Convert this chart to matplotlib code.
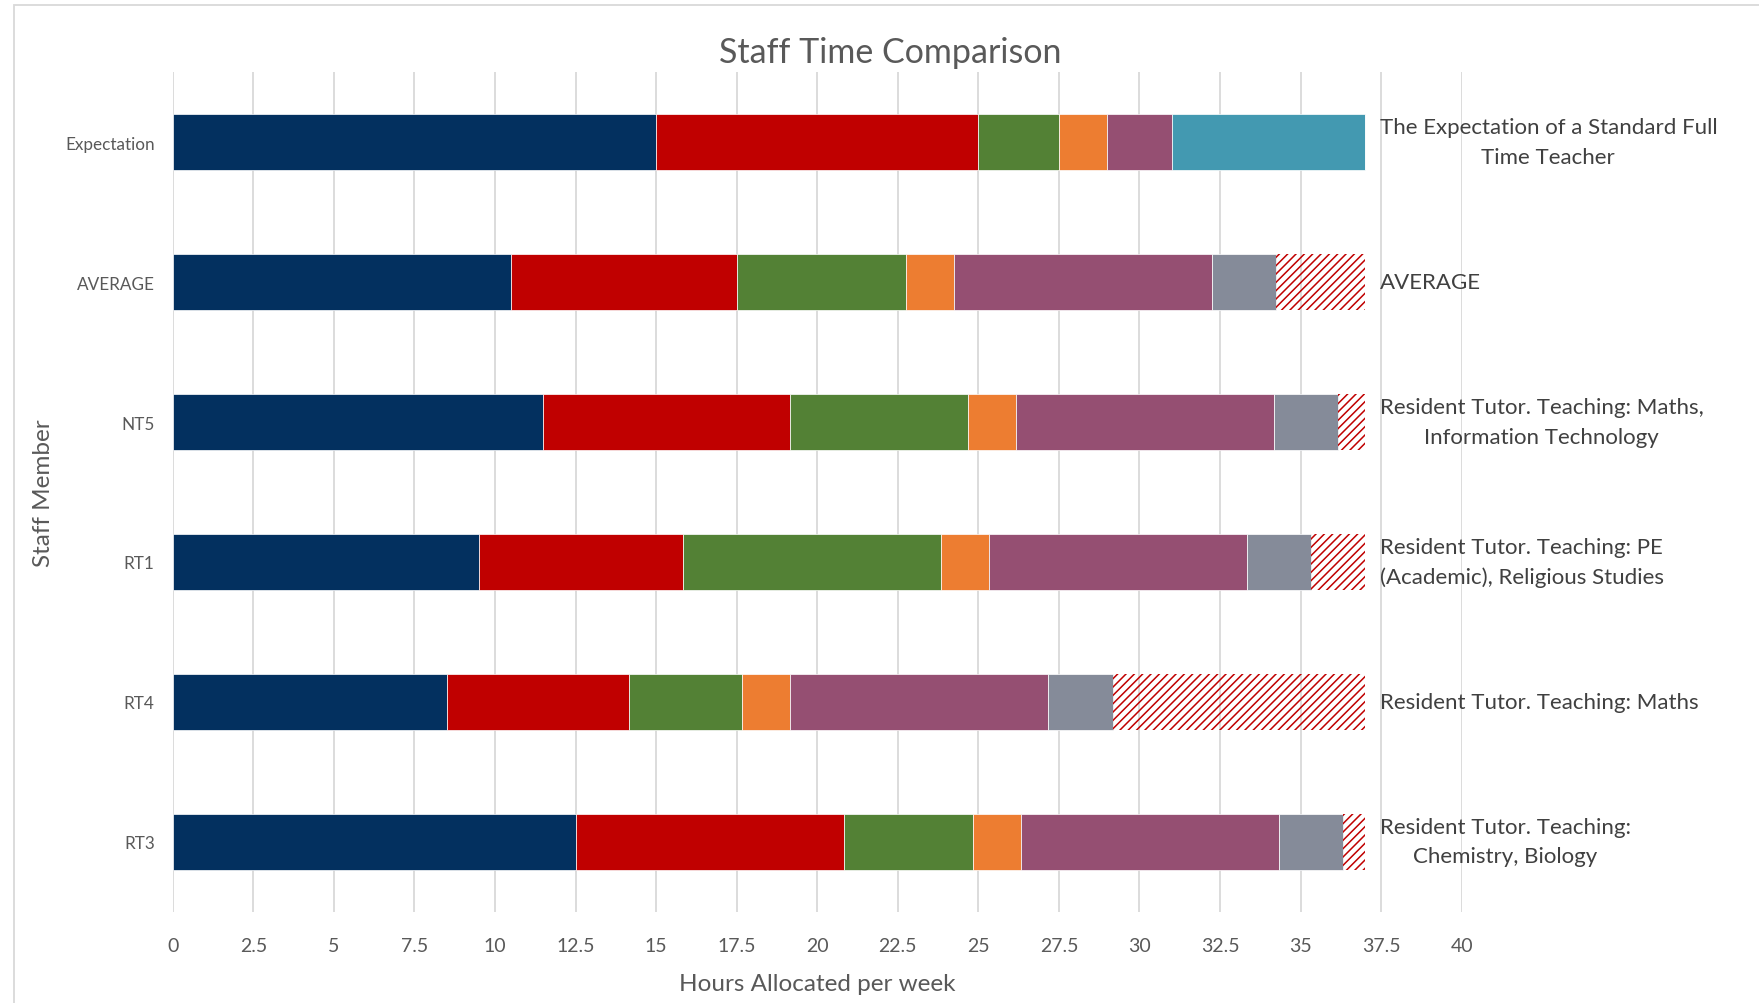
import numpy as np
import matplotlib
matplotlib.use("Agg")
import matplotlib.pyplot as plt
from matplotlib.patches import Rectangle

plt.rcParams['font.family'] = ['Lato', 'DejaVu Sans']
plt.rcParams['hatch.linewidth'] = 1.1

# datos del grafico (de arriba hacia abajo)
personal = ["Expectation", "AVERAGE", "NT5", "RT1", "RT4", "RT3"]
descripciones = [
    "The Expectation of a Standard Full\nTime Teacher",
    "AVERAGE",
    "Resident Tutor. Teaching: Maths,\nInformation Technology",
    "Resident Tutor. Teaching: PE\n(Academic), Religious Studies",
    "Resident Tutor. Teaching: Maths",
    "Resident Tutor. Teaching:\nChemistry, Biology",
]

docencia = [15.0, 10.5, 11.5, 9.5, 8.5, 12.5]
preparacion = [10.0, 7.0, 7.67, 6.33, 5.67, 8.33]
verde = [2.5, 5.25, 5.5, 8.0, 3.5, 4.0]
naranja = [1.5, 1.5, 1.5, 1.5, 1.5, 1.5]
morado = [2.0, 8.0, 8.0, 8.0, 8.0, 8.0]
turquesa = [6.0, 0, 0, 0, 0, 0]
gris = [0, 2.0, 2.0, 2.0, 2.0, 2.0]
sin_asignar = [0, 2.75, 0.83, 1.67, 7.83, 0.67]

series = [docencia, preparacion, verde, naranja, morado, turquesa, gris]
colores = ["#03305f", "#c00000", "#538135", "#ed7d31", "#954f72", "#4399b1", "#858b99"]

fig = plt.figure(figsize=(17.59, 10.04), dpi=100)
ax = fig.add_axes([0.0982, 0.091, 0.7328, 0.836])

y = np.arange(len(personal))
izquierda = np.zeros(len(personal))
for valores, color in zip(series, colores):
    ax.barh(y, valores, left=izquierda, height=0.4, color=color,
            edgecolor="white", linewidth=0.5, zorder=3)
    izquierda += np.array(valores)

# tiempo sin asignar: rayado rojo sin relleno
ax.barh(y, sin_asignar, left=izquierda, height=0.4, facecolor="none",
        edgecolor="#c00000", linewidth=0, hatch="////", zorder=3)

ax.set_xlim(0, 40)
ax.set_ylim(len(personal) - 0.5, -0.5)
ax.set_xticks(np.arange(0, 40.1, 2.5))
ax.set_xticklabels([f"{v:g}" for v in np.arange(0, 40.1, 2.5)])
ax.set_yticks(y)
ax.set_yticklabels(personal)
ax.grid(axis="x", color="#d9d9d9", linewidth=1.3, zorder=0)
ax.set_axisbelow(True)
for s in ax.spines.values():
    s.set_visible(False)
ax.tick_params(axis="x", length=0, pad=18, labelsize=14, labelcolor="#595959")
ax.tick_params(axis="y", length=0, pad=13, labelsize=12.3, labelcolor="#595959")

# etiquetas a la derecha
for i, texto in enumerate(descripciones):
    ax.text(37.45, i, texto, ha="left", va="center", multialignment="center",
            fontsize=16, color="#404040", linespacing=1.6, zorder=4)

ax.set_xlabel("Hours Allocated per week", fontsize=17.5, color="#595959")
ax.xaxis.set_label_coords(0.5, -0.073)
ax.set_ylabel("Staff Member", fontsize=17.5, color="#595959")
ax.yaxis.set_label_coords(-0.092, 0.5)

fig.text(0.506, 0.947, "Staff Time Comparison", ha="center", va="center",
         fontsize=24.5, color="#595959")

# borde exterior del grafico
fig.patches.append(Rectangle((0.008, -0.05), 1.1, 1.044, transform=fig.transFigure,
                             fill=False, edgecolor="#d9d9d9", linewidth=1.3))

fig.savefig("out.png", dpi=100)
